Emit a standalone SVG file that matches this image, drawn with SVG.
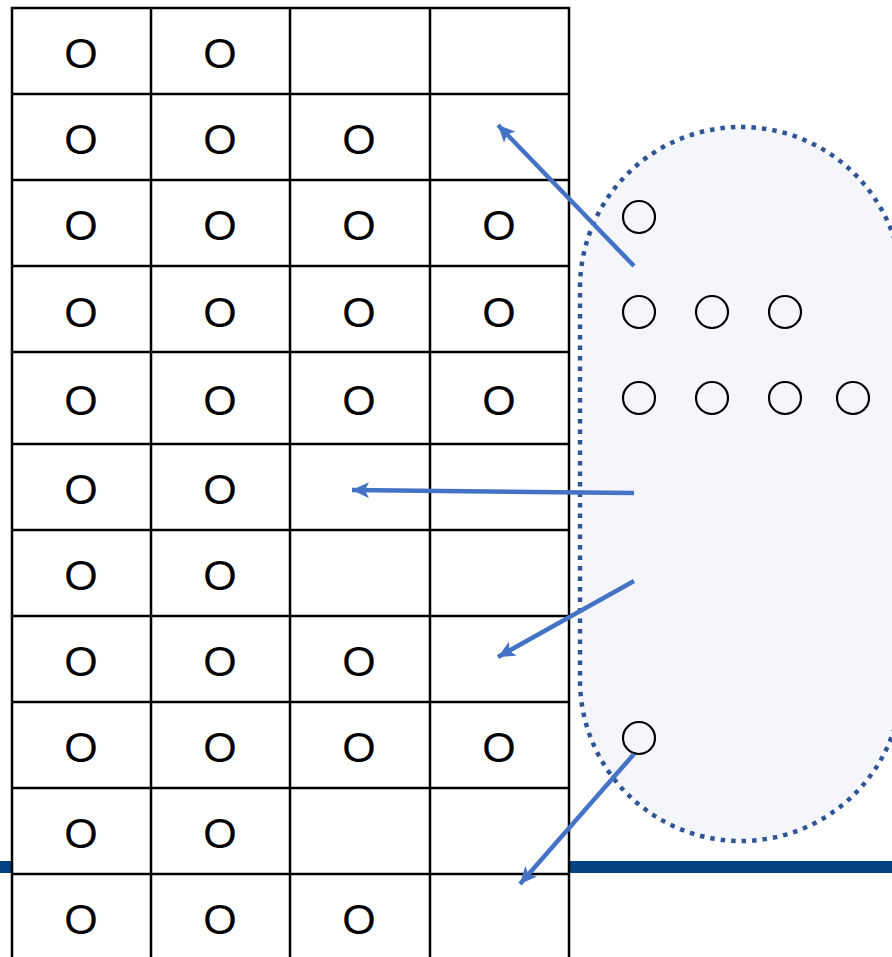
<svg xmlns="http://www.w3.org/2000/svg" width="892" height="957" viewBox="0 0 892 957">
<style>
.cell{fill:#fff;stroke:#000;stroke-width:2.5}
.o{font-family:"Liberation Sans",Arial,sans-serif;font-size:43px;fill:#000;text-anchor:middle}
.dot{fill:none;stroke:#000;stroke-width:2.2}
.arr{stroke:#4472C4;stroke-width:4.5;fill:none;marker-end:url(#ah)}
</style>
<defs>
<marker id="ah" markerUnits="userSpaceOnUse" markerWidth="18" markerHeight="16" refX="17" refY="8" orient="auto">
<path d="M0,0 L17,8 L0,16 L4,8 Z" fill="#4472C4"/>
</marker>
</defs>
<rect width="892" height="957" fill="#fff"/>
<rect x="0" y="861" width="892" height="12" fill="#024282"/>
<g id="grid">
<rect class="cell" x="12" y="8" width="557" height="960"/>
<path d="M151,8V960M290,8V960M430,8V960M12,94H569M12,180H569M12,266H569M12,352H569M12,444H569M12,530H569M12,616H569M12,702H569M12,788H569M12,874H569" stroke="#000" stroke-width="2.5" fill="none"/>
<g class="o">
<text x="81" y="68">O</text><text x="220" y="68">O</text>
<text x="81" y="154">O</text><text x="220" y="154">O</text><text x="359" y="154">O</text>
<text x="81" y="240">O</text><text x="220" y="240">O</text><text x="359" y="240">O</text><text x="499" y="240">O</text>
<text x="81" y="327">O</text><text x="220" y="327">O</text><text x="359" y="327">O</text><text x="499" y="327">O</text>
<text x="81" y="415">O</text><text x="220" y="415">O</text><text x="359" y="415">O</text><text x="499" y="415">O</text>
<text x="81" y="504">O</text><text x="220" y="504">O</text>
<text x="81" y="590">O</text><text x="220" y="590">O</text>
<text x="81" y="676">O</text><text x="220" y="676">O</text><text x="359" y="676">O</text>
<text x="81" y="762">O</text><text x="220" y="762">O</text><text x="359" y="762">O</text><text x="499" y="762">O</text>
<text x="81" y="848">O</text><text x="220" y="848">O</text>
<text x="81" y="934">O</text><text x="220" y="934">O</text><text x="359" y="934">O</text>
</g>
</g>
<g id="cluster">
<rect x="580" y="127" width="322" height="714" rx="161" ry="161" fill="#F4F6FA" stroke="#2F5597" stroke-width="4.5" stroke-dasharray="4.5 6"/>
<circle class="dot" cx="639" cy="217" r="16"/>
<circle class="dot" cx="639" cy="312" r="16"/>
<circle class="dot" cx="712" cy="312" r="16"/>
<circle class="dot" cx="785" cy="312" r="16"/>
<circle class="dot" cx="639" cy="398" r="16"/>
<circle class="dot" cx="712" cy="398" r="16"/>
<circle class="dot" cx="785" cy="398" r="16"/>
<circle class="dot" cx="853" cy="398" r="16"/>
<circle class="dot" cx="639" cy="738" r="16"/>
</g>
<g id="connectors">
<line class="arr" x1="634" y1="266" x2="498" y2="125"/>
<line class="arr" x1="634" y1="493" x2="352" y2="490"/>
<line class="arr" x1="634" y1="581" x2="498" y2="657"/>
<line class="arr" x1="634" y1="754" x2="520" y2="884"/>
</g>
</svg>
